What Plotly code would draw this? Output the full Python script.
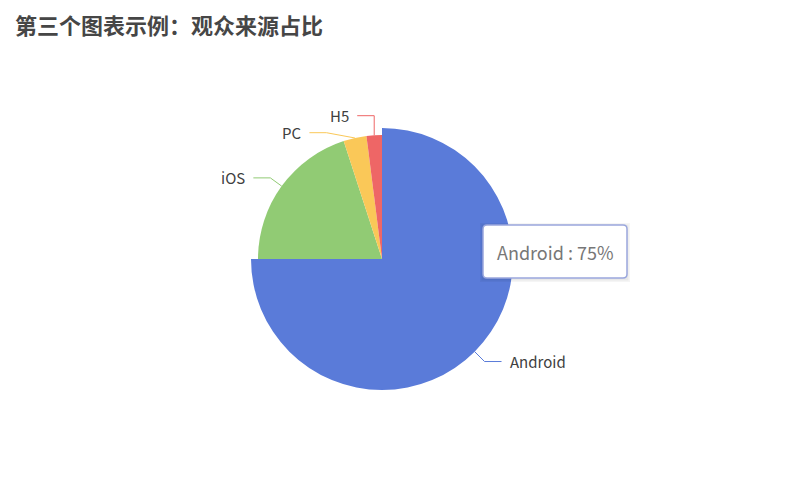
import math
import plotly.graph_objects as go

W, H = 789, 491
PAD = 8  # page body margin

title = "第三个图表示例：观众来源占比"
labels = ["Android", "iOS", "PC", "H5"]
values = [75, 20, 3, 2]
colors = ["#5a7bd9", "#91cb74", "#fac858", "#ee6666"]
highlight = "Android"

# pie geometry in window pixels
cx, cy = 382, 259
r = 124
r_hi = 131
len1, len2 = 14, 17

FW, FH = W - 2 * PAD, H - 2 * PAD


def px(x):
    return (x - PAD) / FW


def py(y):
    return 1 - (y - PAD) / FH


def domain(radius):
    return dict(x=[px(cx - radius), px(cx + radius)],
                y=[py(cy + radius), py(cy - radius)])


fig = go.Figure()

fig.add_trace(go.Pie(
    labels=labels, values=values, sort=False, direction="clockwise",
    rotation=0, textinfo="none", hoverinfo="skip", showlegend=False,
    marker=dict(colors=colors, line=dict(width=0)),
    domain=domain(r)))

hi_colors = [c if l == highlight else "rgba(0,0,0,0)" for l, c in zip(labels, colors)]
fig.add_trace(go.Pie(
    labels=labels, values=values, sort=False, direction="clockwise",
    rotation=0, textinfo="none", hoverinfo="skip", showlegend=False,
    marker=dict(colors=hi_colors, line=dict(width=0)),
    domain=domain(r_hi)))

# label lines, computed from slice angles
total = sum(values)
items = []
acc = 0
for lab, v, c in zip(labels, values, colors):
    mid = (acc + v / 2) / total * 2 * math.pi
    acc += v
    rr = r_hi if lab == highlight else r
    dx, dy = math.sin(mid), -math.cos(mid)
    sx, sy = cx + dx * rr, cy + dy * rr
    ey = cy + dy * (rr + len1)
    items.append(dict(lab=lab, c=c, sx=sx, sy=sy, ey=ey, rr=rr, right=dx >= 0))

# push labels apart on each side, then put the elbow back on the outer circle
for side in (True, False):
    grp = sorted([it for it in items if it["right"] == side], key=lambda it: it["ey"])
    gap = 17
    for i in range(1, len(grp)):
        if grp[i]["ey"] - grp[i - 1]["ey"] < gap:
            d = gap - (grp[i]["ey"] - grp[i - 1]["ey"])
            grp[i - 1]["ey"] -= d * 0.4
            grp[i]["ey"] += d * 0.6

for it in items:
    sign = 1 if it["right"] else -1
    R = it["rr"] + len1
    h = it["ey"] - cy
    ex = cx + sign * math.sqrt(max(0.0, R * R - h * h))
    if sign * (ex - it["sx"]) < 0:
        ex = it["sx"]
    hx = ex + sign * len2
    path = "M {} {} L {} {} L {} {}".format(
        px(it["sx"]), py(it["sy"]), px(ex), py(it["ey"]), px(hx), py(it["ey"]))
    fig.add_shape(type="path", path=path, xref="paper", yref="paper",
                  line=dict(color=it["c"], width=1))
    fig.add_annotation(x=px(hx + sign * 6), y=py(it["ey"]), xref="paper", yref="paper",
                       text=it["lab"], showarrow=False,
                       xanchor="left" if it["right"] else "right", yanchor="middle",
                       font=dict(size=15, color="#404040", family="Noto Sans CJK SC"))

# tooltip box
tx0, ty0, tx1, ty1, rad = 483, 225, 627, 278, 4
for off, col in [(3, "rgba(0,0,0,0.04)"), (1.5, "rgba(0,0,0,0.05)")]:
    fig.add_shape(type="rect", xref="paper", yref="paper",
                  x0=px(tx0 - off), x1=px(tx1 + off), y0=py(ty1 + off + 1), y1=py(ty0 - off + 1),
                  line=dict(width=0), fillcolor=col)
box = ("M {a} {b} L {c} {b} Q {d} {b} {d} {e} L {d} {f} Q {d} {g} {c} {g} "
       "L {a} {g} Q {h} {g} {h} {f} L {h} {e} Q {h} {b} {a} {b} Z").format(
    a=px(tx0 + rad), b=py(ty0), c=px(tx1 - rad), d=px(tx1), e=py(ty0 + rad),
    f=py(ty1 - rad), g=py(ty1), h=px(tx0))
fig.add_shape(type="path", path=box, xref="paper", yref="paper",
              line=dict(color="#9aa7dd", width=1.5), fillcolor="white")
tip_value = values[labels.index(highlight)]
fig.add_annotation(x=px((tx0 + tx1) / 2), y=py((ty0 + ty1) / 2), xref="paper", yref="paper",
                   text="{} : {}%".format(highlight, tip_value), showarrow=False,
                   xanchor="center", yanchor="middle",
                   font=dict(size=18, color="#777", family="Noto Sans CJK SC"))

# title as a plain annotation
fig.add_annotation(x=px(13), y=py(24), xref="paper", yref="paper",
                   text="<b>" + title + "</b>", showarrow=False,
                   xanchor="left", yanchor="middle",
                   font=dict(size=22, color="#464646", family="Noto Sans CJK SC"))

fig.update_layout(
    width=FW, height=FH,
    margin=dict(l=0, r=0, t=0, b=0),
    paper_bgcolor="white", plot_bgcolor="white",
)

fig.write_html("out.html")
